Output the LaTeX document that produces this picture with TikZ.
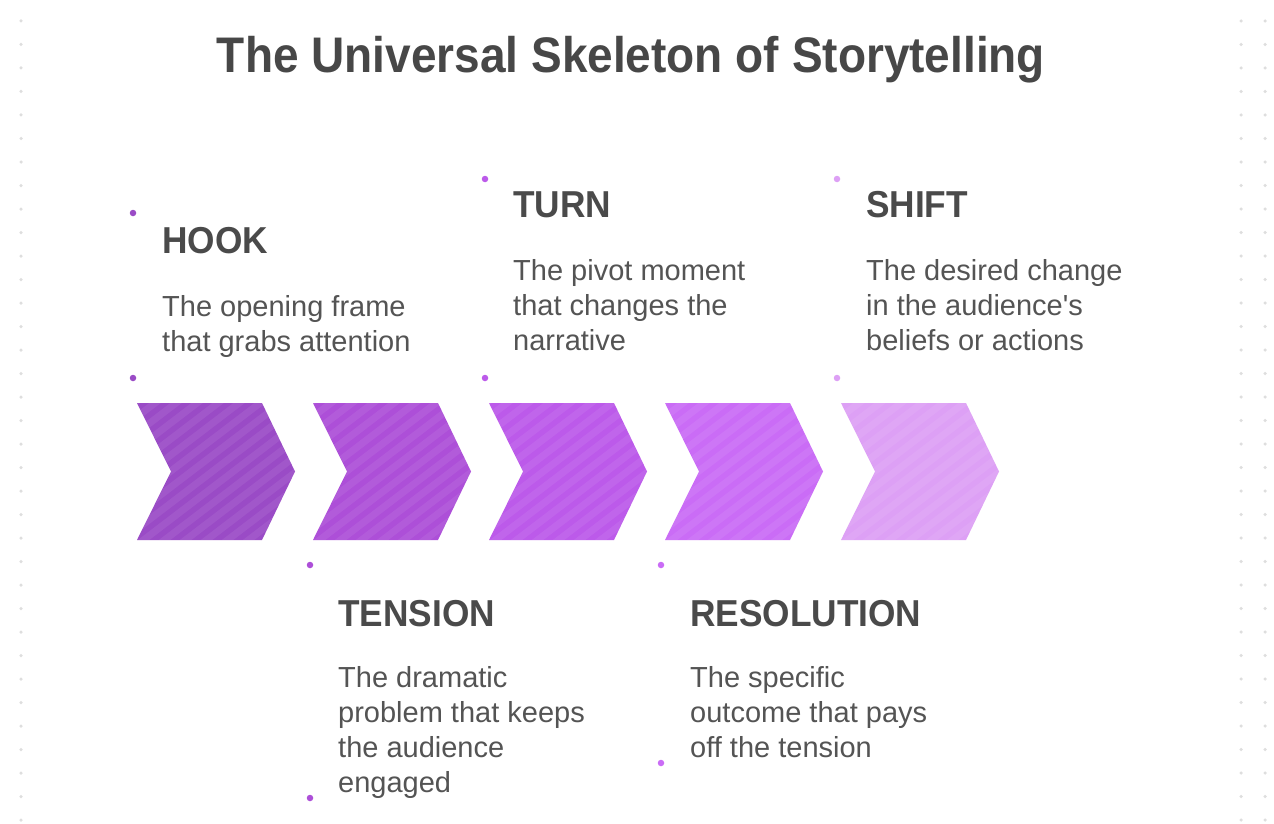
\documentclass[tikz,border=0pt]{standalone}
\usepackage{fontspec}
\setmainfont{Liberation Sans}
\newfontfamily\bodyfont{Liberation Sans}
\newfontfamily\headfont[FakeStretch=0.94]{Liberation Sans}
\newfontfamily\titlefont[FakeStretch=0.92]{Liberation Sans}
\definecolor{cA}{HTML}{9A4BC6}
\definecolor{cB}{HTML}{AD4FD8}
\definecolor{cC}{HTML}{BC5AEA}
\definecolor{cD}{HTML}{CA6CF6}
\definecolor{cE}{HTML}{DDA0F5}
\definecolor{titlegray}{HTML}{474747}
\definecolor{headgray}{HTML}{4A4A4A}
\definecolor{bodygray}{HTML}{545454}
\definecolor{griddot}{HTML}{DEDEDE}
\tikzset{
  titletext/.style={font=\titlefont\bfseries\fontsize{50}{56}\selectfont, text=titlegray, inner sep=0pt, anchor=base},
  headtext/.style={font=\headfont\bfseries\fontsize{37.5}{42}\selectfont, text=headgray, inner sep=0pt, anchor=base west},
  bodytext/.style={font=\bodyfont\fontsize{29}{35}\selectfont, text=bodygray, inner sep=0pt, anchor=base west},
  marker/.style={circle, fill=#1, inner sep=0pt, minimum size=6.5pt},
  gdot/.style={circle, fill=griddot, inner sep=0pt, minimum size=3.5pt},
}
\begin{document}
\begin{tikzpicture}[x=1pt, y={(0pt,-1pt)}]
\useasboundingbox (0,0) rectangle (1274,824);
\fill[white] (0,0) rectangle (1274,824);
% background dot grid at the margins
\foreach \k in {0,...,34} {
  \node[gdot] (gl\k) at (21, 21+23.5*\k) {};
  \node[gdot] (gr\k) at (1241, 21+23.5*\k) {};
  \node[gdot] (gs\k) at (1265, 21+23.5*\k) {};
}
% title
\node[titletext] (title) at (631, 72.5) {The Universal Skeleton of Storytelling};
% chevrons
\foreach \xl/\col in {137/cA, 313/cB, 489/cC, 665/cD, 841/cE} {
  \begin{scope}
    \path[clip] (\xl,403) -- (\xl+125,403) -- (\xl+158,471.5) -- (\xl+125,540) -- (\xl,540) -- (\xl+34,471.5) -- cycle;
    \fill[\col] (\xl-5,398) rectangle (\xl+165,545);
    \foreach \s in {-12,...,10} {
      \draw[white, opacity=0.07, line width=7pt] (\xl+\s*21,545) -- ++(190,-145);
    }
  \end{scope}
}
% HOOK
\node[marker=cA] (hookTop) at (133,213) {};
\node[headtext] (hookHead) at (162,253) {HOOK};
\node[bodytext] (hookBody) at (162,316) {\begin{tabular}[t]{@{}l@{}}The opening frame\\that grabs attention\end{tabular}};
\node[marker=cA] (hookBot) at (133,378) {};
% TURN
\node[marker=cC] (turnTop) at (485,179) {};
\node[headtext] (turnHead) at (513,217) {TURN};
\node[bodytext] (turnBody) at (513,280) {\begin{tabular}[t]{@{}l@{}}The pivot moment\\that changes the\\narrative\end{tabular}};
\node[marker=cC] (turnBot) at (485,378) {};
% SHIFT
\node[marker=cE] (shiftTop) at (837,179) {};
\node[headtext] (shiftHead) at (866,217) {SHIFT};
\node[bodytext] (shiftBody) at (866,280) {\begin{tabular}[t]{@{}l@{}}The desired change\\in the audience's\\beliefs or actions\end{tabular}};
\node[marker=cE] (shiftBot) at (837,378) {};
% TENSION
\node[marker=cB] (tensionTop) at (310,565) {};
\node[headtext] (tensionHead) at (338,626) {TENSION};
\node[bodytext] (tensionBody) at (338,687) {\begin{tabular}[t]{@{}l@{}}The dramatic\\problem that keeps\\the audience\\engaged\end{tabular}};
\node[marker=cB] (tensionBot) at (310,798) {};
% RESOLUTION
\node[marker=cD] (resTop) at (661,565) {};
\node[headtext] (resHead) at (690,626) {RESOLUTION};
\node[bodytext] (resBody) at (690,687) {\begin{tabular}[t]{@{}l@{}}The specific\\outcome that pays\\off the tension\end{tabular}};
\node[marker=cD] (resBot) at (661,763) {};
\end{tikzpicture}
\end{document}
